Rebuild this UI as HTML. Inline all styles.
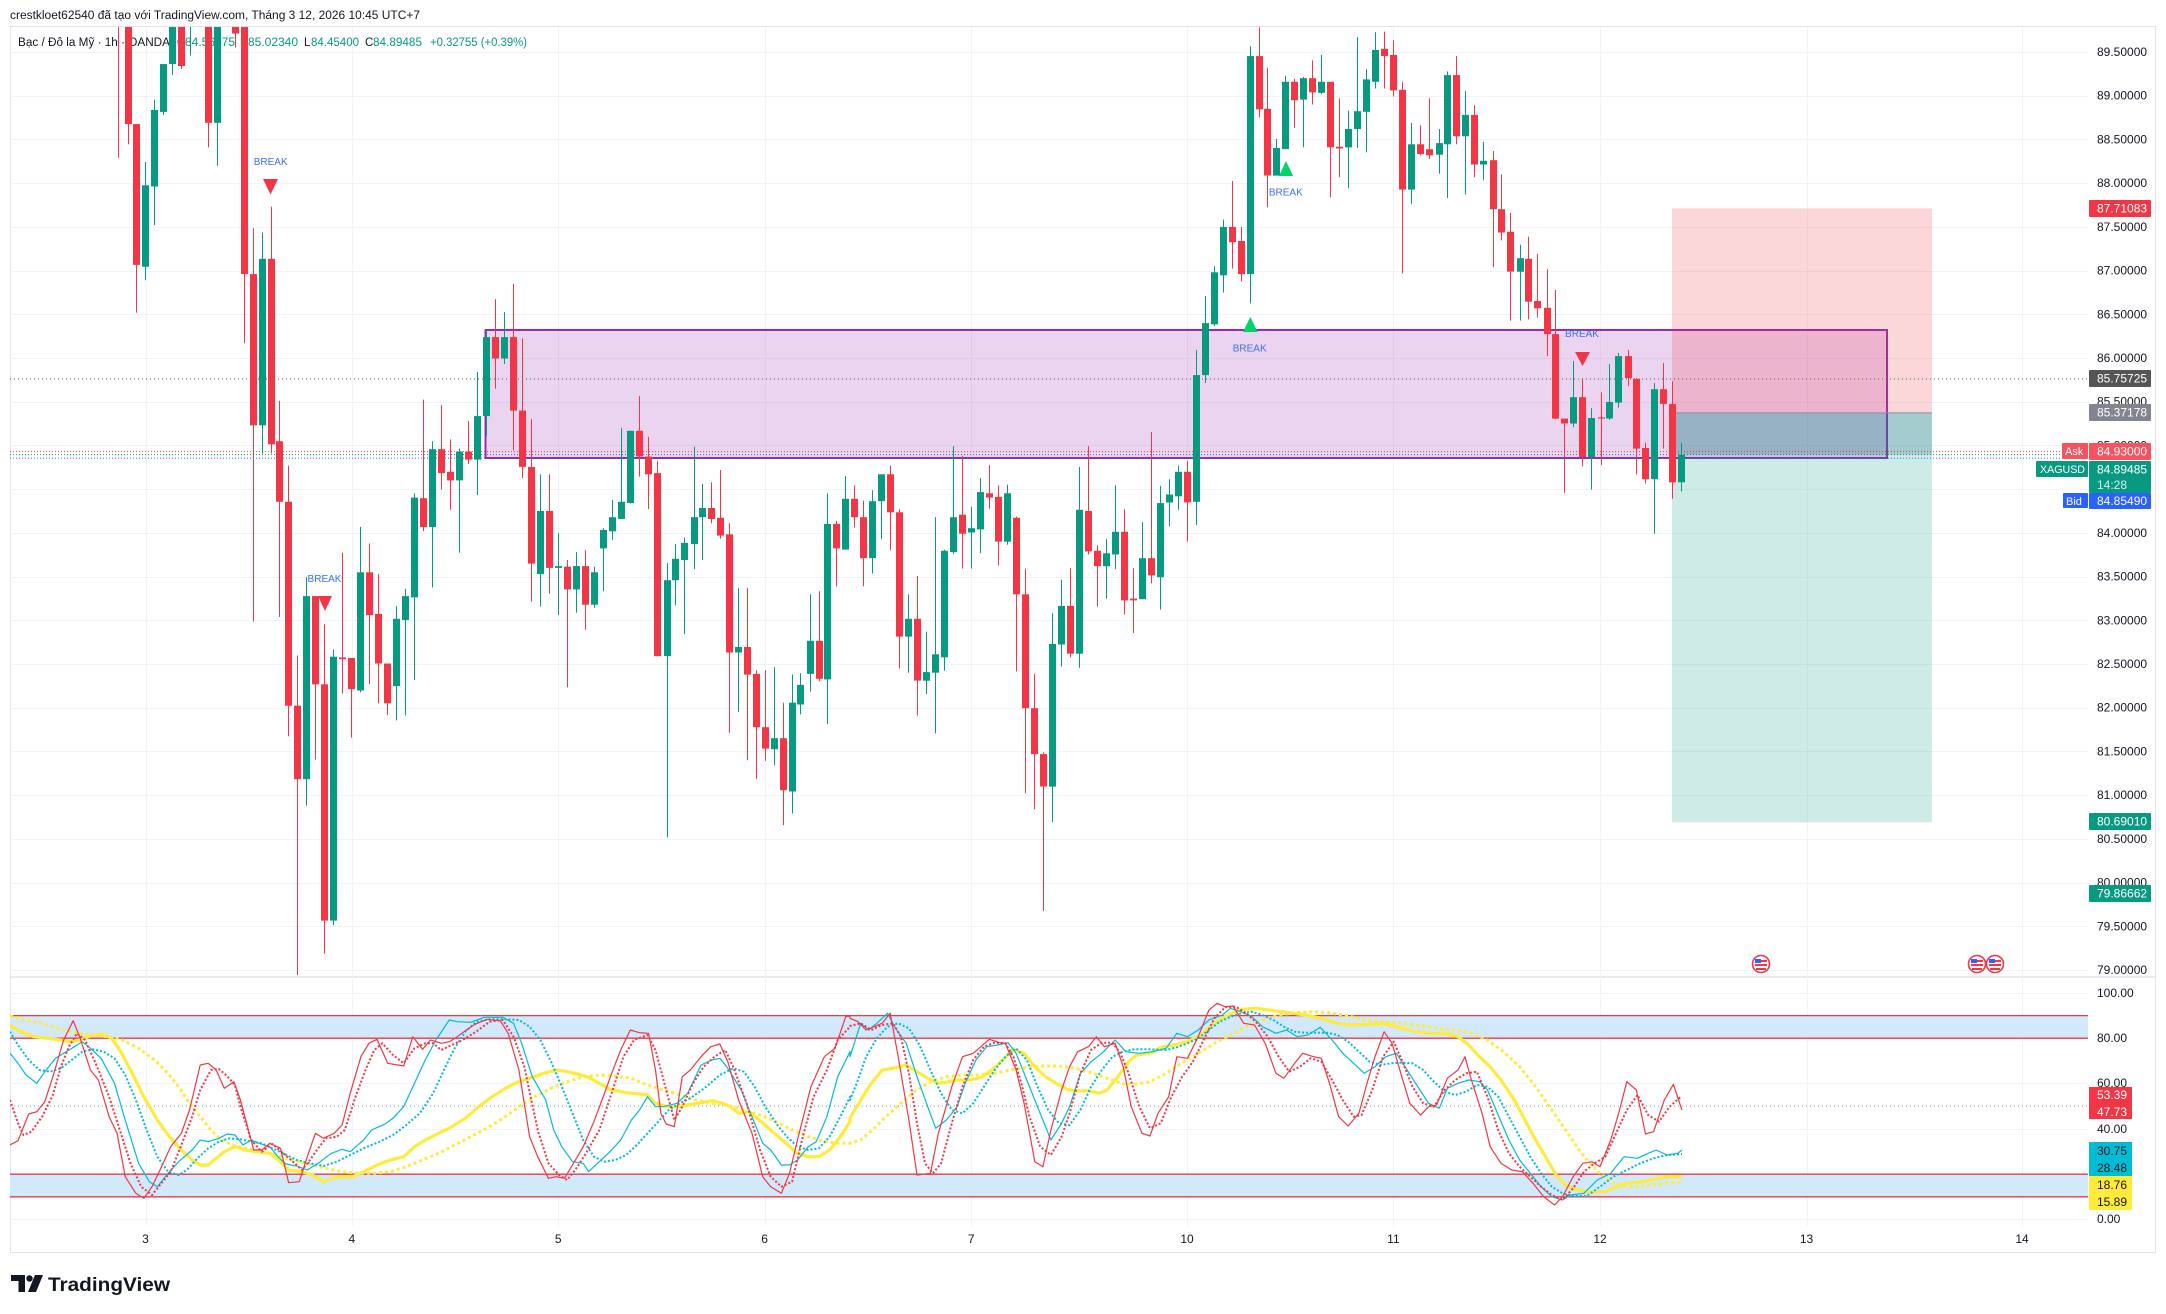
<!DOCTYPE html>
<html><head><meta charset="utf-8">
<style>
html,body{margin:0;padding:0;background:#fff;}
svg{display:block;font-family:"Liberation Sans",Arial,sans-serif;}
</style></head>
<body>
<svg id="s" width="2166" height="1314" viewBox="0 0 2166 1314" xmlns="http://www.w3.org/2000/svg">
<defs>
<clipPath id="cp"><rect x="10" y="27" width="2078" height="949"/></clipPath>
<clipPath id="ci"><rect x="10" y="978" width="2078" height="247"/></clipPath>
</defs>
<rect width="2166" height="1314" fill="#fff"/>

<!-- header -->
<text x="10" y="19" font-size="11.5" fill="#131722" textLength="410" lengthAdjust="spacingAndGlyphs">crestkloet62540 đã tạo với TradingView.com, Tháng 3 12, 2026 10:45 UTC+7</text>

<!-- frame -->
<rect x="10.5" y="26.5" width="2145" height="1226" fill="none" stroke="#e0e3eb" stroke-width="1"/>
<line x1="10" y1="977" x2="2156" y2="977" stroke="#e0e3eb" stroke-width="1.5"/>

<!-- grid -->
<g id="grid" stroke="#f0f3fa" stroke-width="1"></g>

<!-- legend -->
<g font-size="11.5">
<text x="18" y="46" fill="#131722" textLength="152" lengthAdjust="spacingAndGlyphs">Bạc / Đô la Mỹ · 1h · OANDA</text>
<text x="177" y="46" fill="#131722">O</text><text x="185" y="46" fill="#089981" textLength="50" lengthAdjust="spacingAndGlyphs">84.56875</text>
<text x="240" y="46" fill="#131722">H</text><text x="248" y="46" fill="#089981" textLength="50" lengthAdjust="spacingAndGlyphs">85.02340</text>
<text x="304" y="46" fill="#131722">L</text><text x="311" y="46" fill="#089981" textLength="48" lengthAdjust="spacingAndGlyphs">84.45400</text>
<text x="365" y="46" fill="#131722">C</text><text x="373" y="46" fill="#089981" textLength="49" lengthAdjust="spacingAndGlyphs">84.89485</text>
<text x="430" y="46" fill="#089981" textLength="97" lengthAdjust="spacingAndGlyphs">+0.32755 (+0.39%)</text>
</g>

<!-- drawings -->
<g clip-path="url(#cp)">
<rect x="485.5" y="330" width="1401.5" height="128" fill="rgba(156,39,176,0.2)" stroke="#9c27b0" stroke-width="2"/>
<rect x="1672" y="208.4" width="260" height="204.5" fill="rgba(242,54,69,0.2)"/>
<rect x="1672" y="412.9" width="260" height="409.4" fill="rgba(8,153,129,0.2)"/>
<rect x="1672" y="412.9" width="260" height="41.7" fill="rgba(40,110,140,0.25)"/>
<line x1="1672" y1="412.9" x2="1932" y2="412.9" stroke="#8a8f9c" stroke-width="1"/>
<line x1="10" y1="379" x2="2088" y2="379" stroke="#555" stroke-width="1" stroke-dasharray="1,3"/>
<line x1="10" y1="451.6" x2="2088" y2="451.6" stroke="#f23645" stroke-width="1" stroke-dasharray="1,2"/>
<line x1="10" y1="454.6" x2="2088" y2="454.6" stroke="#089981" stroke-width="1" stroke-dasharray="1,2"/>
<line x1="10" y1="458.1" x2="2088" y2="458.1" stroke="#2962ff" stroke-width="1" stroke-dasharray="1,2"/>
</g>

<!-- candles -->
<g id="cd" clip-path="url(#cp)"></g>

<!-- BREAK labels -->
<g font-size="10" fill="#3d6ef5" text-anchor="middle">
<text x="270.7" y="165">BREAK</text>
<polygon points="263,179 278,179 270.5,194.5" fill="#f23645"/>
<text x="324.5" y="582">BREAK</text>
<polygon points="318,596 332,596 325,611" fill="#f23645"/>
<polygon points="1243,332 1257.6,332 1250.3,317" fill="#00d26a"/>
<text x="1249.7" y="351.5">BREAK</text>
<polygon points="1279,176 1293,176 1286,161" fill="#00d26a"/>
<text x="1285.8" y="195.5">BREAK</text>
<text x="1582" y="337">BREAK</text>
<polygon points="1575,352 1590,352 1582.5,366" fill="#f23645"/>
</g>

<!-- event flags -->
<g id="flags"></g>

<!-- indicator -->
<g clip-path="url(#ci)">
<rect x="10" y="1015.6" width="2078" height="22.6" fill="#d2e8fb"/>
<rect x="10" y="1174.2" width="2078" height="22.6" fill="#d2e8fb"/>
<line x1="10" y1="1015.6" x2="2088" y2="1015.6" stroke="#f23645" stroke-width="1.3"/>
<line x1="10" y1="1038.2" x2="2088" y2="1038.2" stroke="#f23645" stroke-width="1.3"/>
<line x1="10" y1="1174.2" x2="2088" y2="1174.2" stroke="#f23645" stroke-width="1.3"/>
<line x1="10" y1="1196.8" x2="2088" y2="1196.8" stroke="#f23645" stroke-width="1.3"/>
<line x1="10" y1="1106" x2="2088" y2="1106" stroke="#9598a1" stroke-width="1" stroke-dasharray="1,3"/>
<g id="ind" fill="none" stroke-linejoin="round"></g>
</g>

<!-- price axis labels -->
<g id="pax" font-size="12" fill="#131722"></g>

<!-- price boxes -->
<g font-size="12">
<rect x="2089" y="200" width="62" height="17" rx="1" fill="#f23645"/><text x="2097" y="212.5" fill="#fff">87.71083</text>
<rect x="2089" y="370" width="62" height="17" rx="1" fill="#555"/><text x="2097" y="382.5" fill="#fff">85.75725</text>
<rect x="2089" y="404" width="62" height="17" rx="1" fill="#82858f"/><text x="2097" y="416.5" fill="#fff">85.37178</text>
<rect x="2062" y="443" width="26" height="16" rx="1" fill="#f7525f"/><text x="2065" y="455" fill="#fff" font-size="11">Ask</text>
<rect x="2089" y="443" width="62" height="17" rx="1" fill="#f7525f"/><text x="2097" y="455.5" fill="#fff">84.93000</text>
<rect x="2036" y="461" width="52" height="16" rx="1" fill="#089981"/><text x="2040" y="473" fill="#fff" font-size="11" textLength="45" lengthAdjust="spacingAndGlyphs">XAGUSD</text>
<rect x="2089" y="461" width="62" height="32" rx="1" fill="#089981"/><text x="2097" y="473.5" fill="#fff">84.89485</text><text x="2097" y="489" fill="#d8f0ea">14:28</text>
<rect x="2063" y="493" width="25" height="15" rx="1" fill="#2962ff"/><text x="2066" y="505" fill="#fff" font-size="11">Bid</text>
<rect x="2089" y="493" width="62" height="16" rx="1" fill="#2962ff"/><text x="2097" y="505" fill="#fff">84.85490</text>
<rect x="2089" y="813" width="62" height="17" rx="1" fill="#089981"/><text x="2097" y="825.5" fill="#fff">80.69010</text>
<rect x="2089" y="885" width="62" height="17" rx="1" fill="#089981"/><text x="2097" y="897.5" fill="#fff">79.86662</text>
</g>

<!-- indicator axis -->
<g font-size="12" fill="#131722">
<text x="2097" y="997">100.00</text>
<text x="2097" y="1042">80.00</text>
<text x="2097" y="1087">60.00</text>
<text x="2097" y="1133">40.00</text>
<text x="2097" y="1223">0.00</text>
<rect x="2089" y="1087" width="43" height="32" fill="#f23645"/>
<text x="2097" y="1099" fill="#fff">53.39</text><text x="2097" y="1116" fill="#fff">47.73</text>
<rect x="2089" y="1142" width="43" height="34" fill="#00bcd4"/>
<text x="2097" y="1155">30.75</text><text x="2097" y="1172">28.48</text>
<rect x="2089" y="1176" width="43" height="34" fill="#ffeb3b"/>
<text x="2097" y="1189">18.76</text><text x="2097" y="1206">15.89</text>
</g>

<!-- time axis -->
<g font-size="12" fill="#131722" text-anchor="middle">
<text x="145.5" y="1243">3</text><text x="351.8" y="1243">4</text><text x="558.2" y="1243">5</text>
<text x="764.6" y="1243">6</text><text x="971.2" y="1243">7</text><text x="1187" y="1243">10</text>
<text x="1393.4" y="1243">11</text><text x="1600" y="1243">12</text><text x="1806.5" y="1243">13</text>
<text x="2022" y="1243">14</text>
</g>

<!-- TradingView logo -->
<g fill="#131722">
<path d="M11 1275 H25 V1292 H18.5 V1281 H11 Z"/>
<circle cx="29.5" cy="1278.5" r="3.2"/>
<path d="M35 1275 H43 L36 1292 H28 Z"/>
<text x="48" y="1291" font-size="19.5" font-weight="bold" textLength="122" lengthAdjust="spacingAndGlyphs">TradingView</text>
</g>
</svg>
<script>
(function(){
var NS='http://www.w3.org/2000/svg';
function py(p){return 52+(89.5-p)*87.43;}
// grid
var g='';
for(var p=79;p<=89.5001;p+=0.5){var y=Math.round(py(p))+0.5;g+='<line x1="10" y1="'+y+'" x2="2088" y2="'+y+'"/>';}
[993,1038,1083,1129,1174,1219].forEach(function(y){g+='<line x1="10" y1="'+(y+0.5)+'" x2="2088" y2="'+(y+0.5)+'"/>';});
[145.5,351.8,558.2,764.6,971.2,1187,1393.4,1600,1806.5,2022].forEach(function(x){x=Math.round(x)+0.5;g+='<line x1="'+x+'" y1="27" x2="'+x+'" y2="1226"/>';});
document.getElementById('grid').innerHTML=g;
// price axis
var a='';
for(var i=0;i<=21;i++){var p=89.5-i*0.5;a+='<text x="2097" y="'+(py(p)+4).toFixed(1)+'">'+p.toFixed(5)+'</text>';}
document.getElementById('pax').innerHTML=a;
// candles
var h='';
function add(X0,fx,arr){
 arr.forEach(function(c){
  var x=Math.round(X0+c[1]/fx);
  var col=c[0]==='G'?'#089981':'#f23645';
  var y1=20+Math.min(c[2],c[3])/1.6333,y2=20+Math.max(c[2],c[3])/1.6333;
  var w1=20+c[4]/1.6333,w2=20+c[5]/1.6333;
  h+='<rect x="'+x+'" y="'+w1.toFixed(1)+'" width="1" height="'+(w2-w1).toFixed(1)+'" fill="'+col+'"/>';
  h+='<rect x="'+(x-3)+'" y="'+y1.toFixed(1)+'" width="7" height="'+Math.max(1.2,y2-y1).toFixed(1)+'" fill="'+col+'"/>';
 });
}
add(10,2.8,[
['R',303,-100,-5,-100,225],['R',329,-30,170,-30,203],['R',354,170,400,170,478],['G',379,270,403,232,425],
['G',404,147,272,130,335],['G',429,72,150,72,155],['G',454,-20,72,-20,90],['R',479,-20,75,-20,80],
['G',504,-100,-10,-100,58],['R',555,-30,168,-30,208],['G',580,-30,168,-30,238],['R',630,-10,22,-10,45],
['R',655,-5,415,-10,528],['R',680,415,662,340,982],['G',705,390,662,347,708],['R',730,390,693,305,708],
['R',754,688,787,622,975],['R',779,787,1120,728,1170],['R',804,1120,1240,1038,1560],['G',829,941,1240,910,1283],
['R',855,941,1085,941,1208],['R',880,1085,1471,987,1525],['G',905,1040,1471,1028,1478],['R',930,1041,1044,870,1100],
['R',955,1042,1093,1042,1172],['G',980,902,1095,828,1098],['R',1006,902,972,855,1085],['R',1031,970,1051,905,1116],
['R',1056,1051,1116,1051,1135],['G',1081,978,1088,957,1144],['G',1106,941,980,929,1136],['G',1131,780,943,773,1078],
['R',1157,781,828,620,835],['G',1182,701,828,688,927],['R',1207,701,740,629,767],['R',1232,738,752,685,800],
['G',1257,705,752,700,870],['R',1282,705,718,655,725],['G',1307,647,718,575,776],['G',1333,518,647,505,680],
['R',1358,518,553,456,602],['G',1383,518,553,477,562],['R',1408,518,638,431,703],['R',1433,638,730,520,748],
['R',1459,730,888,652,950],['G',1484,802,905,742,958],['R',1509,802,895,742,937],['G',1534,892,895,838,972],
['R',1559,893,930,882,1090]]);
add(560,2.7034,[
['G',44,892,930,869,968],['R',68,892,955,866,996],['G',93,902,955,893,960],['G',117,833,863,830,933],
['G',141,812,835,784,849],['G',166,787,815,666,815],['G',190,671,789,671,790],['R',214,671,713,614,746],
['R',239,713,742,681,799],['R',263,740,1039,720,1039],['G',288,915,1039,887,1335],['G',312,880,915,856,956],
['G',336,854,882,845,1003],['G',361,812,856,697,897],['G',385,797,812,758,882],['R',409,797,815,755,822],
['R',433,813,842,735,847],['R',458,840,1033,822,1164],['G',482,1024,1033,928,1130],['R',506,1024,1069,928,1209],
['R',531,1068,1155,1062,1240],['R',555,1155,1190,1062,1210],['G',578,1173,1191,1057,1217],['R',602,1173,1258,1115,1315],
['G',626,1115,1260,1069,1296],['G',650,1086,1118,1067,1134],['G',675,1014,1068,938,1097],['R',699,1014,1076,933,1080],
['G',723,823,1077,773,1150],['R',747,823,863,818,925],['G',771,782,865,745,865],['R',796,782,812,760,829],
['R',820,812,879,785,925],['G',844,786,879,768,904],['G',869,742,786,742,848],['R',893,742,804,728,866],
['R',917,804,1007,799,1059],['G',942,978,1007,938,1066],['R',966,978,1079,908,1136],['G',990,1065,1079,999,1101],
['G',1015,1036,1066,812,1165],['G',1039,867,1041,865,1063],['G',1063,812,869,696,872],['R',1088,808,839,712,896],
['G',1112,830,837,795,896],['G',1136,771,832,748,871],['R',1160,773,780,727,798],['R',1185,779,852,760,891],
['G',1209,773,852,759,857],['R',1234,813,938,811,1064],['R',1258,938,1124,896,1263],['R',1282,1124,1199,1068,1289],
['R',1306,1199,1252,1196,1455],['G',1331,1019,1252,969,1310],['G',1355,957,1020,914,1056],['R',1380,957,1035,895,1041],
['G',1404,800,1035,730,1058],['R',1428,802,868,696,873],['R',1453,867,892,858,958],['G',1477,871,892,848,945],
['G',1501,836,873,760,897],['R',1526,836,948,799,971],['R',1550,945,948,895,1001]]);
add(1130,2.7034,[
['G',33,879,946,820,946],['R',58,879,907,673,920],['G',82,789,910,761,963],['G',106,775,788,750,827],
['G',131,738,778,728,800],['R',155,738,788,720,852],['G',179,580,787,539,825],['G',204,495,580,451,593],
['G',228,412,497,402,500],['G',252,338,417,326,445],['R',277,338,363,263,406],['R',301,361,415,338,427],
['G',325,59,415,43,463],['R',350,59,146,12,159],['R',371,145,254,78,306],['G',396,209,254,194,254],
['G',420,101,211,91,211],['R',444,101,131,96,176],['G',469,95,130,93,208],['R',493,95,118,66,138],
['G',517,101,119,57,121],['R',542,101,208,101,290],['R',566,207,210,128,257],['G',590,178,208,148,275],
['G',615,149,178,28,209],['G',639,97,150,80,216],['G',663,49,101,20,112],['R',688,47,59,19,112],
['R',712,57,115,33,125],['R',736,114,277,101,414],['G',761,203,277,168,300],['R',785,203,219,172,221],
['R',809,211,221,128,227],['G',834,201,220,178,251],['G',858,90,203,84,291],['R',882,90,190,59,203],
['G',906,155,190,116,285],['R',931,155,236,139,257],['G',955,230,236,199,262],['R',980,229,309,214,404],
['R',1004,309,347,252,360],['R',1028,346,411,315,491],['G',1053,389,411,367,491],['R',1077,390,460,354,489],
['R',1101,459,471,382,486],['R',1126,470,513,407,549],['R',1150,513,651,441,652],['R',1174,651,659,651,772],
['G',1198,616,659,557,665],['R',1223,616,714,585,729],['G',1247,650,714,634,767],['R',1272,649,651,608,727],
['G',1296,624,651,562,653],['G',1320,549,625,544,633],['R',1345,549,585,539,598],['R',1369,586,700,585,742],
['R',1393,699,750,690,757],['G',1417,603,750,593,839],['R',1442,603,627,560,700],['R',1466,627,755,590,782],
['G',1490,710,755,690,770]]);
document.getElementById('cd').innerHTML=h;

// flags
var f='';
[1761,1977,1995].forEach(function(x){
 f+='<circle cx="'+x+'" cy="964" r="8.5" fill="#fff" stroke="#f23645" stroke-width="1.6"/>';
 f+='<rect x="'+(x-6)+'" y="964" width="12" height="2" fill="#f23645"/><rect x="'+(x-5)+'" y="968" width="10" height="2" fill="#f23645"/>';
 f+='<rect x="'+(x-6)+'" y="959" width="6" height="4" fill="#2962ff"/><rect x="'+x+'" y="960" width="6" height="2" fill="#f23645"/>';
});
document.getElementById('flags').innerHTML=f;

// indicator
function P(s8,s9){
 var out=[];
 s8.trim().split(/\s+/).forEach(function(t){var a=t.split(',');out.push((10+a[0]/1.8667).toFixed(1)+','+(990+a[1]/3).toFixed(1));});
 s9.trim().split(/\s+/).forEach(function(t){var a=t.split(',');out.push((850+a[0]/1.8667).toFixed(1)+','+(990+a[1]/3).toFixed(1));});
 return out.join(' ');
}
var L=[];
// yellow dotted
L.push(['#ffeb3b',3,'3,3',P(
"0,78 30,90 60,100 90,115 120,128 150,135 180,140 210,150 240,175 270,210 295,250 315,290 335,340 355,380 375,420 395,450 415,465 440,475 465,485 490,490 515,505 540,515 565,525 590,535 620,545 650,550 680,550 710,545 740,530 770,510 800,490 830,465 860,440 890,415 920,385 950,350 980,320 1010,295 1040,275 1070,260 1100,255 1130,258 1160,265 1190,285 1220,300 1250,315 1280,330 1310,340 1340,345 1370,360 1400,375 1430,395 1460,420 1490,440 1520,455 1550,460 1568,460",
"0,460 20,450 45,415 70,375 95,340 120,305 150,275 180,260 210,255 240,255 270,250 300,240 330,232 360,228 390,228 420,235 450,248 480,265 510,282 535,282 560,275 590,250 620,218 650,190 680,160 710,135 740,110 770,90 800,75 830,68 860,65 890,67 920,75 950,85 980,92 1010,97 1040,102 1070,108 1100,115 1130,120 1160,130 1190,150 1220,185 1250,230 1280,290 1310,360 1340,430 1370,500 1400,550 1425,580 1450,590 1475,590 1500,585 1525,580 1553,575")]);
// yellow solid
L.push(['#ffeb3b',3.2,'',P(
"0,105 20,125 45,140 70,145 95,150 115,155 130,150 155,135 175,133 190,145 205,180 225,240 250,320 275,390 300,445 320,480 340,510 355,525 370,525 385,505 400,485 420,470 440,480 460,485 485,490 505,515 520,540 545,545 565,555 585,575 600,565 620,560 640,560 660,545 685,525 710,510 735,500 755,470 775,450 800,430 825,410 850,385 875,350 900,320 925,295 950,275 975,262 1000,248 1020,240 1040,245 1060,252 1080,262 1100,280 1120,298 1150,308 1175,312 1190,315 1205,340 1225,348 1245,350 1265,345 1285,340 1310,332 1330,340 1345,350 1360,370 1380,365 1395,385 1420,420 1445,455 1470,490 1490,500 1510,500 1530,480 1550,440 1568,395",
"0,385 20,330 40,280 60,240 80,235 105,225 125,245 145,265 165,280 185,275 200,270 225,270 245,262 265,240 285,210 305,178 325,190 345,230 365,260 385,280 405,298 425,303 445,302 465,310 480,300 500,260 520,215 535,195 560,190 580,172 605,165 630,155 655,135 680,100 705,75 730,58 760,55 790,62 820,68 850,75 880,85 910,100 935,105 965,103 1000,102 1030,115 1055,125 1085,130 1110,130 1135,140 1155,165 1175,200 1195,230 1215,270 1240,330 1260,390 1280,450 1300,505 1320,560 1340,590 1360,600 1385,607 1410,605 1430,590 1450,580 1480,575 1510,565 1530,560 1553,560")]);
// cyan dotted
L.push(['#00bcd4',2,'2,2',P(
"0,125 15,165 35,210 55,240 75,245 95,235 115,210 135,185 155,178 175,185 195,205 215,255 235,330 255,420 275,500 295,545 315,555 330,540 350,505 370,475 390,455 410,445 430,448 450,455 470,460 490,475 510,490 535,510 560,520 585,528 610,515 635,495 660,475 690,455 715,435 740,405 765,370 790,310 810,240 830,175 850,125 870,95 895,88 925,88 950,90 970,110 990,150 1010,215 1030,290 1050,370 1070,450 1090,500 1110,515 1130,510 1150,495 1170,465 1190,430 1210,395 1230,360 1250,340 1270,325 1300,290 1325,255 1350,235 1370,245 1390,290 1410,350 1430,400 1450,440 1470,470 1490,480 1510,475 1530,440 1550,380 1568,320",
"0,330 15,270 30,200 50,145 70,110 90,100 110,115 130,165 150,240 170,310 190,360 210,370 230,340 250,290 270,240 290,200 310,175 330,210 350,290 370,360 390,400 410,405 430,360 450,290 470,240 490,200 510,185 530,178 560,178 590,180 610,172 630,160 650,145 670,120 690,95 710,80 730,70 750,65 770,75 790,90 810,110 830,125 850,128 870,128 890,128 910,135 930,155 950,185 970,215 990,225 1010,220 1030,218 1050,220 1070,240 1090,275 1110,305 1130,315 1150,305 1170,285 1190,290 1210,320 1230,380 1250,440 1270,500 1290,550 1310,590 1330,610 1350,618 1375,618 1400,590 1425,560 1450,540 1475,520 1500,505 1525,495 1553,492")]);
// cyan solid
L.push(['#00bcd4',1.2,'',P(
"0,190 15,220 30,255 50,280 65,245 85,205 105,185 120,170 135,155 150,175 170,205 195,280 215,390 240,520 260,575 275,590 295,550 315,515 340,480 355,450 370,455 390,445 405,432 420,435 435,465 450,450 465,460 485,470 500,500 515,522 535,528 555,540 575,520 600,490 620,478 635,485 660,450 675,420 700,402 715,385 735,350 755,280 775,210 795,150 820,90 835,95 860,97 885,82 920,82 940,100 955,160 975,260 1000,330 1015,420 1030,470 1050,515 1070,520 1080,545 1100,515 1120,485 1140,450 1160,390 1175,360 1190,320 1205,350 1220,350 1245,340 1265,310 1290,225 1310,210 1325,205 1340,235 1365,300 1385,380 1405,460 1420,480 1440,525 1455,525 1470,510 1490,470 1505,455 1525,380 1545,260 1568,185",
"0,200 20,100 35,120 50,100 70,70 85,115 105,160 125,260 145,350 160,415 180,390 200,350 215,280 235,210 255,170 275,165 295,158 310,190 330,270 350,350 375,450 395,400 410,350 430,250 450,215 470,190 495,150 515,185 540,190 565,185 590,175 610,130 630,140 650,120 670,90 695,75 710,55 730,65 750,80 770,110 795,130 815,120 835,140 855,135 878,112 900,150 920,190 940,220 960,250 980,230 1000,200 1020,190 1040,240 1060,290 1080,340 1100,355 1115,295 1135,280 1155,270 1175,275 1190,300 1210,375 1230,450 1250,510 1270,550 1290,590 1310,620 1330,630 1345,615 1370,610 1395,570 1420,550 1445,500 1470,505 1490,490 1505,480 1525,495 1545,490 1553,480")]);
// red dotted
L.push(['#f23645',2,'2,2',P(
"0,330 15,400 25,435 40,425 60,380 80,315 95,230 110,170 125,130 140,150 160,220 185,320 205,420 225,520 245,590 265,615 280,585 300,545 320,465 340,380 355,300 375,240 390,237 405,258 420,285 430,350 450,450 470,485 490,462 510,490 525,510 545,540 560,510 575,475 590,445 610,440 625,420 645,320 665,235 680,180 695,160 715,195 735,220 755,175 775,160 790,160 805,180 825,165 845,150 870,125 895,95 920,90 940,140 960,230 985,420 1005,520 1025,555 1040,570 1055,540 1075,490 1100,420 1125,300 1145,200 1165,150 1190,135 1205,180 1225,300 1240,390 1255,350 1275,280 1295,230 1315,200 1335,180 1350,230 1375,340 1400,480 1420,560 1440,590 1460,575 1480,440 1500,320 1525,240 1545,150 1568,110",
"0,108 20,100 40,120 60,105 80,100 95,140 110,250 125,400 140,520 155,550 170,520 190,400 210,290 230,210 250,170 270,158 290,160 305,200 320,280 335,380 355,470 375,495 395,440 410,370 430,250 450,180 470,158 490,158 505,190 520,250 540,350 560,415 580,400 600,320 620,260 640,215 660,150 680,85 700,52 720,50 740,70 760,100 780,140 800,200 820,245 840,230 860,205 880,215 900,270 920,330 940,380 955,375 975,300 995,200 1015,155 1030,210 1050,290 1070,340 1090,350 1110,300 1130,270 1150,250 1170,245 1190,320 1210,420 1230,490 1250,530 1270,560 1290,590 1310,615 1330,630 1350,595 1370,545 1390,520 1410,500 1430,430 1450,360 1470,315 1490,375 1510,395 1530,350 1550,322")]);
// red solid
L.push(['#f23645',1.2,'',P(
"0,465 15,452 35,372 50,365 65,335 80,260 100,150 118,92 130,140 150,240 165,270 185,380 200,430 215,560 235,610 250,625 265,590 280,540 300,470 320,430 335,360 355,225 370,220 385,240 400,295 418,275 430,330 445,420 455,480 470,480 485,460 505,475 520,578 540,575 555,500 570,430 585,445 605,430 620,405 635,310 655,200 670,160 685,148 705,220 735,228 752,140 770,178 785,150 805,160 820,155 835,140 850,122 868,103 890,88 915,92 930,130 950,240 970,440 985,500 1005,565 1020,560 1035,565 1050,525 1070,470 1090,395 1105,330 1125,242 1140,180 1158,120 1175,128 1192,130 1205,240 1215,370 1225,402 1240,410 1255,260 1270,240 1290,200 1308,170 1325,162 1340,215 1360,330 1385,430 1405,560 1420,590 1440,610 1455,550 1470,450 1495,290 1520,200 1540,175 1560,80 1568,78",
"0,85 15,95 30,120 45,110 60,100 75,70 90,200 110,390 125,555 150,550 165,430 190,290 210,200 230,190 260,148 280,158 290,160 310,240 325,340 345,515 360,530 375,420 395,300 410,230 425,185 445,170 460,140 475,170 495,160 510,230 525,350 545,430 560,438 575,370 595,320 610,200 630,205 650,140 670,60 685,40 700,50 715,48 735,100 755,105 775,160 795,250 810,265 830,220 845,190 865,200 880,205 895,280 912,380 930,408 950,370 965,280 980,200 997,125 1012,160 1030,260 1045,340 1065,375 1080,350 1095,345 1115,265 1135,240 1148,200 1160,270 1180,370 1195,470 1215,520 1235,540 1255,545 1275,580 1295,620 1315,645 1330,620 1350,560 1368,520 1385,515 1400,530 1420,450 1435,370 1450,275 1468,300 1485,432 1500,425 1520,330 1537,283 1553,360")]);
var s='';
L.forEach(function(l){s+='<polyline points="'+l[3]+'" stroke="'+l[0]+'" stroke-width="'+l[1]+'"'+(l[2]?' stroke-dasharray="'+l[2]+'"':'')+'/>';});
document.getElementById('ind').innerHTML=s;
})();
</script>
</body></html>
